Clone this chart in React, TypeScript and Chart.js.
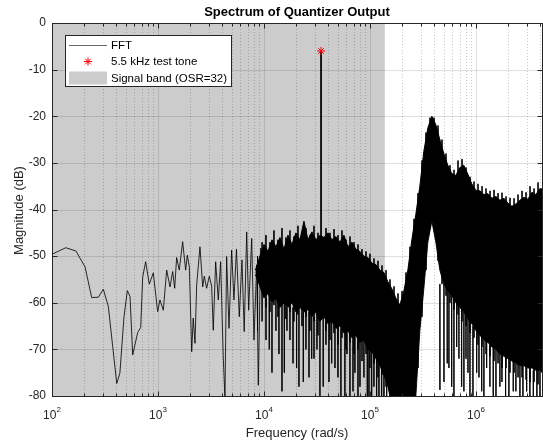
import { useEffect, useRef } from 'react';
import { Chart, registerables } from 'chart.js';

Chart.register(...registerables);

const FONT = '"Liberation Sans", Arial, Helvetica, sans-serif';

// ---- axis ranges / ticks ----
const xMin = 100;
const xMax = 4200000;
const yMin = -80;
const yMax = 0;
const yTicks = [0, -10, -20, -30, -40, -50, -60, -70, -80];
const xDecades = [100, 1000, 10000, 100000, 1000000];
const xExponents = ['2', '3', '4', '5', '6'];
const minorSteps = [2, 3, 4, 5, 6, 7, 8, 9];

// signal band (OSR = 32)
const bandRange = [100, 138000];

// test tone
const toneFreq = [34558];
const toneMag = [-6];
const toneFloor = [-47];

// ---- FFT: low-frequency part (individual bins visible) ----
const lowFreq = [100, 135, 168, 205, 237, 274, 305, 340, 408, 437, 478, 514, 545, 577, 643, 687, 717, 765, 828, 903, 993, 1044, 1122, 1208, 1298, 1376, 1437, 1500, 1588, 1709, 1824, 1891, 1976, 2080, 2150, 2235, 2317, 2490, 2641, 2735, 2878, 3048, 3208, 3324, 3500, 3707, 3900, 4128, 4285, 4443, 4677, 4955, 5210, 5500, 5850, 6200, 6510, 6870, 7170, 7660, 8050, 8540, 8840, 9310, 9850];
const lowMag = [-49.6, -48.2, -48.9, -52.3, -58.9, -58.8, -57.1, -60.8, -77.3, -75.1, -63.0, -57.4, -58.7, -71.2, -66.4, -65.3, -54.5, -51.2, -56.0, -53.6, -61.9, -59.4, -61.6, -53.0, -56.6, -53.3, -56.9, -50.3, -53.0, -46.9, -53.0, -49.8, -52.3, -70.5, -63.3, -68.7, -56.2, -48.0, -56.6, -54.3, -56.9, -54.3, -56.4, -65.9, -51.2, -59.4, -51.2, -71.6, -80.5, -50.1, -65.5, -48.7, -59.4, -48.5, -63.0, -50.8, -66.2, -44.8, -61.6, -46.2, -68.0, -51.9, -77.7, -48.3, -54.4];

// ---- FFT: dense part, upper edge and lower edge of the dark mass ----
const noiseFreq = [8300, 9000, 10000, 10910, 11900, 12980, 14150, 15440, 16840, 18370, 20030, 21850, 23830, 25990, 28350, 30920, 33730, 36780, 40120, 43760, 47730, 52060, 56780, 61930, 67550, 73680, 80360, 87650, 95600, 104300, 113700, 124100, 135300, 147600, 161000, 175600, 191500, 208900, 227800, 248500, 271000, 295600, 322400, 351700, 383600, 418400, 456300, 497700, 542900, 592100, 645800, 704400, 768300, 838000, 914000, 1000000, 1090700, 1189700, 1297600, 1415300, 1543700, 1683700, 1836500, 2003100, 2184700, 2382900, 2599100, 2834800, 3092000, 3372500, 3678400, 4012100, 4200000];
const noiseTop = [-53, -50.5, -47.5, -49, -46.5, -48, -46, -48.5, -45.5, -47.5, -45, -46.5, -42.5, -46.5, -44.8, -46.5, -45.5, -46, -45, -46.5, -45.8, -47, -45.5, -48, -47, -48.5, -49, -50, -50.3, -51.5, -51.8, -53, -53.5, -55.5, -57, -59, -60.5, -57.5, -53, -46.5, -41, -35, -27.5, -22.5, -20, -21.8, -25, -28, -30.5, -32.3, -32.7, -31, -30.5, -32.4, -34.5, -35.9, -36, -36.8, -36.6, -37.6, -37.2, -38, -37.6, -38.6, -39.3, -38.8, -38, -37.4, -37.8, -36.3, -36.8, -35.5, -35.6];
const noiseBottom = [-54, -56, -59, -58, -60, -59, -61, -60, -61, -60, -62, -61, -62, -61.5, -63, -62, -64, -63, -64.5, -64, -65.5, -65, -66.5, -66, -67.5, -67, -68.5, -68, -70, -70.5, -72, -73.5, -75.5, -78, -82, -82, -82, -82, -82, -82, -80, -66, -57, -47, -42.5, -47, -53, -56, -57.5, -58.5, -60, -61, -62, -63.5, -64.5, -66, -67, -68, -68.5, -69.5, -70, -71, -71.5, -72, -72.5, -73, -73.5, -73.5, -74, -74, -74.5, -74.5, -75];

// ---- FFT: bins in between (peak and dip of each), giving the ragged edges ----
const fuzzFreq = [10440, 11390, 12420, 13550, 14780, 16120, 17590, 19180, 20920, 22830, 24900, 27160, 29630, 32320, 38460, 41950, 45770, 49930, 54460, 59410, 64800, 70690, 77110, 84110, 91750, 100000, 109200, 119100, 129900, 141700, 154500, 168600, 183900, 200600, 218800, 238700, 260300, 284000, 309800, 337900, 368600, 402100, 438600, 478400, 521900, 569300, 621000, 677400, 738900, 806000, 879200, 959000, 1046000, 1141000, 1245000, 1358000, 1481000, 1616000, 1762000, 1922000, 2097000, 2288000, 2495000, 2722000, 2969000, 3239000, 3533000, 3854000];
const fuzzTop = [-45.5, -47, -44.5, -46.5, -44, -46, -44.5, -45.8, -43.5, -45, -44, -45.5, -43.5, -45, -44, -45, -44.2, -45.5, -44.5, -46.5, -45.8, -47, -47.5, -48.5, -49, -49.5, -50.5, -51, -52, -53, -55, -56.5, -58, -57.5, -53.5, -48, -42, -36.5, -29.5, -23.5, -20.3, -20.3, -22, -25, -28, -30.5, -31.5, -29.5, -29.2, -31, -33, -34, -34.5, -35, -35.5, -36, -35.8, -36.5, -36.4, -37.2, -37.5, -37.6, -36.8, -36, -36.3, -35, -35.5, -34.2];
const fuzzBottom = [-61, -62, -60.5, -63, -61, -63.5, -62, -64, -62.5, -65, -63, -66, -64, -67, -66, -68, -66.5, -69, -67.5, -70, -68.5, -71, -70, -72.5, -71, -74, -73, -76, -75.5, -78, -82, -82, -82, -82, -82, -82, -82, -74, -63, -53, -44, -44, -51, -56, -58.5, -60, -61.5, -62.5, -64, -65, -66.5, -67.5, -69, -69.5, -71, -71.5, -72.5, -73, -74, -74, -75, -75, -76, -76, -76.5, -77, -77, -77.5];

// ---- FFT: deep single-bin dips below the dark mass ----
const spikeFreq = [
  8700, 9600, 10450, 11220, 11900, 12970, 13850, 14790, 15560, 16480, 17580, 18790, 20320, 21380, 23500, 24900, 26590, 28190, 29650, 31620, 33730, 36220, 38460, 41020, 43540, 46770, 49890, 53210, 58020, 60670, 64730, 69180, 72140, 77090, 80470, 87700, 94400, 97900, 103800, 109100, 115600, 121600, 128900, 135500, 143800,
  457100, 499000, 535800, 556000, 590000, 620000, 658000, 691000, 733000, 770000, 805000, 841000, 877800, 937000, 1016000, 1068000, 1133000, 1189000, 1262000, 1355000, 1456000, 1545000, 1683000, 1759000, 1905000, 2047000, 2249000, 2383000, 2600000, 2775000, 3009000, 3229000, 3478000, 3760000, 4018000, 4102000,
];
const spikeHigh = [
  -50, -47, -59, -58, -60, -59, -60, -61, -60, -61, -60, -61, -61, -61, -62, -61.5, -62, -62, -63, -62, -63, -63, -64, -64, -64, -65, -65, -65.5, -66, -66, -66, -67, -67, -68, -68, -68, -69, -70, -70, -70.5, -71, -72, -73, -74, -76,
  -56, -56, -57, -57.5, -58, -59, -60, -60.5, -61, -62, -62.5, -63.5, -63.5, -65, -66, -66.5, -67, -68, -68, -69, -69.5, -70, -71, -71, -71.5, -72, -72.5, -73, -73.5, -73.5, -74, -74, -74.5, -74.5, -74.5,
];
const spikeLow = [
  -66, -64, -68, -70, -75, -66, -71, -79, -75, -66, -68, -73, -74, -78, -77, -70, -76, -72, -72, -70, -81, -78, -69, -77, -73, -74, -76, -80, -80.5, -71, -82, -79, -75, -82, -78, -76, -82, -82, -80, -78, -82, -82, -82, -82, -82,
  -78.7, -77, -73, -74, -78, -80, -69.5, -72, -78, -79, -72, -75, -80, -81, -75, -76, -79, -82, -74, -78, -80, -80, -78, -77, -82, -82, -79, -79, -81, -82, -79, -80, -81, -82, -80,
];

const legendLabels = ['FFT', '5.5 kHz test tone', 'Signal band (OSR=32)'];
const titleText = 'Spectrum of Quantizer Output';
const xLabel = 'Frequency (rad/s)';
const yLabel = 'Magnitude (dB)';

const INK = '#262626';
const BAND = '#cccccc';

function drawStar(ctx: CanvasRenderingContext2D, cx: number, cy: number, r: number) {
  const d = r * Math.SQRT1_2;
  ctx.beginPath();
  ctx.moveTo(cx - r, cy); ctx.lineTo(cx + r, cy);
  ctx.moveTo(cx, cy - r); ctx.lineTo(cx, cy + r);
  ctx.moveTo(cx - d, cy - d); ctx.lineTo(cx + d, cy + d);
  ctx.moveTo(cx - d, cy + d); ctx.lineTo(cx + d, cy - d);
  ctx.stroke();
}

const matlabAxes = {
  id: 'matlabAxes',
  beforeDatasetsDraw(chart: any) {
    const { ctx, chartArea: a, scales } = chart;
    const x = scales.x;
    const y = scales.y;
    ctx.save();
    const b0 = x.getPixelForValue(bandRange[0]);
    const b1 = x.getPixelForValue(bandRange[1]);
    ctx.fillStyle = BAND;
    ctx.fillRect(b0, a.top, b1 - b0, a.bottom - a.top);
    ctx.lineWidth = 1;
    ctx.strokeStyle = 'rgba(38,38,38,0.25)';
    ctx.setLineDash([1, 2]);
    xDecades.forEach((d) => {
      minorSteps.forEach((m) => {
        const v = d * m;
        if (v >= xMax) return;
        const px = Math.round(x.getPixelForValue(v)) + 0.5;
        ctx.beginPath();
        ctx.moveTo(px, a.top);
        ctx.lineTo(px, a.bottom);
        ctx.stroke();
      });
    });
    ctx.setLineDash([]);
    ctx.strokeStyle = 'rgba(38,38,38,0.15)';
    xDecades.forEach((d) => {
      if (d <= xMin) return;
      const px = Math.round(x.getPixelForValue(d)) + 0.5;
      ctx.beginPath();
      ctx.moveTo(px, a.top);
      ctx.lineTo(px, a.bottom);
      ctx.stroke();
    });
    yTicks.forEach((v) => {
      if (v <= yMin || v >= yMax) return;
      const py = Math.round(y.getPixelForValue(v)) + 0.5;
      ctx.beginPath();
      ctx.moveTo(a.left, py);
      ctx.lineTo(a.right, py);
      ctx.stroke();
    });
    ctx.restore();
  },
  afterDatasetsDraw(chart: any) {
    const { ctx, chartArea: a, scales } = chart;
    const x = scales.x;
    const y = scales.y;
    const L = Math.floor(a.left) + 0.5;
    const R = Math.floor(a.right) + 0.5;
    const T = Math.floor(a.top) + 0.5;
    const B = Math.floor(a.bottom) + 0.5;
    ctx.save();
    ctx.setLineDash([]);
    ctx.strokeStyle = INK;
    ctx.lineWidth = 1;
    ctx.strokeRect(L, T, R - L, B - T);
    const vtick = (px: number, len: number) => {
      ctx.beginPath();
      ctx.moveTo(px, B); ctx.lineTo(px, B - len);
      ctx.moveTo(px, T); ctx.lineTo(px, T + len);
      ctx.stroke();
    };
    xDecades.forEach((d) => {
      vtick(Math.round(x.getPixelForValue(d)) + 0.5, 5);
      minorSteps.forEach((m) => {
        const v = d * m;
        if (v >= xMax) return;
        vtick(Math.round(x.getPixelForValue(v)) + 0.5, 3);
      });
    });
    yTicks.forEach((v) => {
      const py = Math.round(y.getPixelForValue(v)) + 0.5;
      ctx.beginPath();
      ctx.moveTo(L, py); ctx.lineTo(L + 5, py);
      ctx.moveTo(R, py); ctx.lineTo(R - 5, py);
      ctx.stroke();
    });
    ctx.fillStyle = INK;
    ctx.font = `12px ${FONT}`;
    ctx.textAlign = 'right';
    ctx.textBaseline = 'middle';
    yTicks.forEach((v) => {
      ctx.fillText(String(v), L - 6.5, y.getPixelForValue(v));
    });
    ctx.textAlign = 'left';
    ctx.textBaseline = 'alphabetic';
    xDecades.forEach((d, i) => {
      const px = x.getPixelForValue(d);
      ctx.font = `12px ${FONT}`;
      const w1 = ctx.measureText('10').width;
      ctx.font = `8px ${FONT}`;
      const w2 = ctx.measureText(xExponents[i]).width;
      const start = px - (w1 + w2) / 2;
      ctx.font = `12px ${FONT}`;
      ctx.fillText('10', start, 419);
      ctx.font = `8px ${FONT}`;
      ctx.fillText(xExponents[i], start + w1, 412);
    });
    ctx.font = `13px ${FONT}`;
    ctx.textAlign = 'center';
    ctx.textBaseline = 'middle';
    ctx.fillText(xLabel, (a.left + a.right) / 2, 433);
    ctx.save();
    ctx.translate(19, (a.top + a.bottom) / 2 + 1);
    ctx.rotate(-Math.PI / 2);
    ctx.fillText(yLabel, 0, 0);
    ctx.restore();
    ctx.fillStyle = '#000';
    ctx.font = `bold 13px ${FONT}`;
    ctx.fillText(titleText, (a.left + a.right) / 2, 12.5);
    // legend
    const lx = 65.5, ly = 35.5, lw = 166, lh = 51;
    ctx.fillStyle = '#ffffff';
    ctx.fillRect(lx, ly, lw, lh);
    ctx.strokeStyle = INK;
    ctx.lineWidth = 1;
    ctx.strokeRect(lx, ly, lw, lh);
    const rows = [45, 61.5, 78];
    ctx.strokeStyle = 'rgba(0,0,0,0.6)';
    ctx.beginPath();
    ctx.moveTo(69, rows[0] + 0.5);
    ctx.lineTo(107, rows[0] + 0.5);
    ctx.stroke();
    ctx.strokeStyle = '#ff0000';
    drawStar(ctx, 88, rows[1], 4);
    ctx.fillStyle = BAND;
    ctx.fillRect(69, rows[2] - 6.5, 38, 13);
    ctx.fillStyle = '#000';
    ctx.font = `11.5px ${FONT}`;
    ctx.textAlign = 'left';
    ctx.textBaseline = 'middle';
    legendLabels.forEach((t, i) => ctx.fillText(t, 111, rows[i] + 0.5));
    ctx.restore();
  },
};

function verticals(freqs: number[], highs: number[], lows: number[]) {
  const out: { x: number; y: number | null }[] = [];
  freqs.forEach((f, i) => {
    out.push({ x: f, y: highs[i] });
    out.push({ x: f, y: lows[i] });
    out.push({ x: f, y: null });
  });
  return out;
}

export default function App() {
  const ref = useRef<HTMLCanvasElement>(null);
  useEffect(() => {
    const canvas = ref.current;
    if (!canvas) return;
    const lowData = lowFreq.map((f, i) => ({ x: f, y: lowMag[i] }));
    const topData = noiseFreq.map((f, i) => ({ x: f, y: noiseTop[i] }));
    const bottomData = noiseFreq.map((f, i) => ({ x: f, y: noiseBottom[i] }));
    const spikeData = verticals(spikeFreq, spikeHigh, spikeLow);
    const fuzzData = verticals(fuzzFreq, fuzzTop, fuzzBottom);
    const toneLine = [
      { x: toneFreq[0], y: toneMag[0] },
      { x: toneFreq[0], y: toneFloor[0] },
    ];
    const chart = new Chart(canvas, {
      type: 'line',
      data: {
        datasets: [
          {
            label: legendLabels[1],
            data: toneFreq.map((f, i) => ({ x: f, y: toneMag[i] })),
            showLine: false,
            pointStyle: 'star',
            pointRadius: 4,
            pointBorderColor: '#ff0000',
            pointBorderWidth: 1,
            borderColor: '#ff0000',
          } as any,
          {
            label: 'FFT low',
            data: lowData,
            borderColor: 'rgba(0,0,0,0.82)',
            borderWidth: 1,
            pointRadius: 0,
            tension: 0,
          },
          {
            label: 'tone',
            data: toneLine,
            borderColor: '#000',
            borderWidth: 1,
            pointRadius: 0,
          },
          {
            label: 'dips',
            data: spikeData as any,
            borderColor: 'rgba(0,0,0,0.8)',
            borderWidth: 1,
            pointRadius: 0,
            spanGaps: false,
          },
          {
            label: 'FFT top',
            data: topData,
            borderColor: '#000',
            borderWidth: 1,
            pointRadius: 0,
            backgroundColor: '#000',
            fill: 5,
          },
          {
            label: 'FFT bottom',
            data: bottomData,
            borderColor: 'rgba(0,0,0,0.9)',
            borderWidth: 1,
            pointRadius: 0,
          },
          {
            label: 'fuzz',
            data: fuzzData as any,
            borderColor: 'rgba(0,0,0,0.85)',
            borderWidth: 1,
            pointRadius: 0,
            spanGaps: false,
          },
        ],
      },
      options: {
        responsive: false,
        animation: false,
        devicePixelRatio: 1,
        events: [],
        layout: { autoPadding: false, padding: { left: 52, right: 1, top: 23, bottom: 49 } },
        scales: {
          x: { type: 'logarithmic', min: xMin, max: xMax, display: false },
          y: { type: 'linear', min: yMin, max: yMax, display: false },
        },
        plugins: {
          legend: { display: false },
          tooltip: { enabled: false },
          title: { display: false },
        },
      },
      plugins: [matlabAxes],
    });
    return () => chart.destroy();
  }, []);
  return (
    <div style={{ position: 'fixed', left: 0, top: 0, width: 543, height: 445, background: '#ffffff' }}>
      <canvas ref={ref} width={543} height={445} style={{ display: 'block', width: 543, height: 445 }} />
    </div>
  );
}
